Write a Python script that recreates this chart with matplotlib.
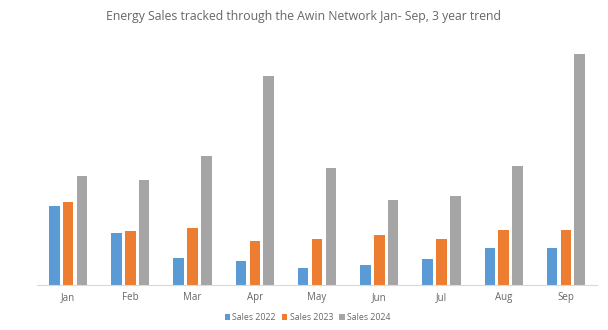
import numpy as np
import matplotlib.pyplot as plt

months = ['Jan', 'Feb', 'Mar', 'Apr', 'May', 'Jun', 'Jul', 'Aug', 'Sep']
sales_2022 = [79, 52, 27, 24, 17, 20, 26, 37, 37]
sales_2023 = [83, 54, 57, 44, 46, 50, 46, 55, 55]
sales_2024 = [109, 105, 129, 209, 117, 85, 89, 119, 231]

series = [
    ('Sales 2022', sales_2022, '#5B9BD5'),
    ('Sales 2023', sales_2023, '#ED7D31'),
    ('Sales 2024', sales_2024, '#A5A5A5'),
]

fig = plt.figure(figsize=(6.08, 3.30), dpi=100)
ax = fig.add_axes([0.0609, 0.1364, 0.921, 0.7273])

x = np.arange(len(months))
width = 0.17
step = 0.222
for i, (label, vals, color) in enumerate(series):
    ax.bar(x + (i - 1) * step, vals, width, color=color, label=label)

ax.set_xlim(-0.5, len(months) - 0.5)
ax.set_ylim(0, 240)
ax.set_yticks([])
ax.set_xticks(x)
ax.set_xticklabels(months, fontsize=7, color='#666666', family='Open Sans')
ax.tick_params(axis='x', length=0, pad=5)
for side in ['top', 'right', 'left']:
    ax.spines[side].set_visible(False)
ax.spines['bottom'].set_color('#D9D9D9')

fig.suptitle('Energy Sales tracked through the Awin Network Jan- Sep, 3 year trend',
             x=0.5, y=0.97, fontsize=8.8, color='#666666', family='Open Sans')

fig.legend(loc='lower center', bbox_to_anchor=(0.506, 0.0), ncol=3, frameon=False,
           prop={'family': 'Open Sans', 'size': 6.3}, labelcolor='#666666',
           handlelength=0.6, handleheight=0.6, handletextpad=0.3, columnspacing=0.7)

fig.savefig('out.png', dpi=100)
